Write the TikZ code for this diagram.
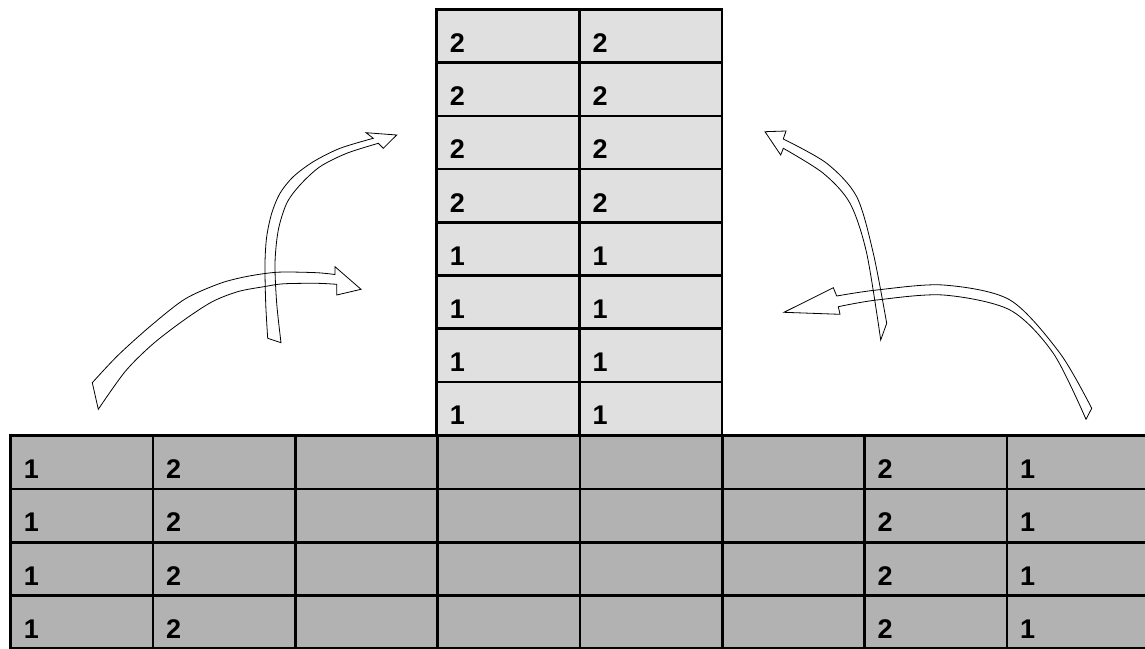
\documentclass[tikz,border=0pt]{standalone}
\usepackage{fontspec}
\setmainfont{Liberation Sans}
\usepackage{xcolor}
\usetikzlibrary{calc}

\definecolor{stackgray}{HTML}{E0E0E0}
\definecolor{basegray}{HTML}{B2B2B2}

\begin{document}
\begin{tikzpicture}[
  x=1pt, y=-1pt,
  cellbox/.style={draw=black, line width=2.6pt, anchor=north west, minimum height=53.2pt, inner sep=0pt, outer sep=0pt},
  stackcell/.style={cellbox, fill=stackgray, minimum width=142.7pt},
  basecell/.style={cellbox, fill=basegray, minimum width=142.3pt},
  digit/.style={font=\fontsize{27}{27}\selectfont\bfseries, anchor=base west, inner sep=0pt},
  flowarrow/.style={draw=black, line width=0.8pt, line join=miter}
]
  \useasboundingbox (0,0) rectangle (1145,648);
  \clip (0,0) rectangle (1145,648);
  % lower table
  \foreach \c in {0,...,7} {
    \foreach \r in {0,...,3} {\node[basecell] (base-\c-\r) at ({10.7+142.3*\c},{435.6+53.3*\r}) {};}
  }
  \foreach \c/\v in {0/1,1/2,6/2,7/1} {
    \foreach \r in {0,...,3} {\node[digit] at ($(base-\c-\r.north west)+(13,43)$) {\v};}
  }
  % stack
  \foreach \r/\v in {0/2,1/2,2/2,3/2,4/1,5/1,6/1,7/1} {
    \foreach \c in {0,1} {
      \node[stackcell] (stack-\c-\r) at ({436.7+142.7*\c},{9.5+53.2*\r}) {};
      \node[digit] at ($(stack-\c-\r.north west)+(13,43)$) {\v};
    }
  }
  % arrows on the left
  \draw[flowarrow] plot[smooth] coordinates {(92.3,382.7) (118.3,355) (151.7,325) (185,299) (218.3,284) (241.7,277.5) (265,273.5) (283.3,272) (316.7,272.7) (335,274.5)}
    -- (335,266.7) -- (361,289.3) -- (336.7,295) -- (336.7,284.3)
    -- plot[smooth] coordinates {(336.7,284.3) (316.7,283.3) (283.3,283.8) (265,286.5) (238.3,291.5) (211.7,302) (181.7,321.7) (151.7,345) (125,371.7) (98.3,409.3)} -- cycle;
  \draw[flowarrow] plot[smooth] coordinates {(267.7,338.3) (265.7,303.3) (265,263.3) (266.7,236.7) (271.7,213.3) (280,193.3) (293.3,176.7) (313.3,161.7) (340,148.3) (373.3,138.3)}
    -- (366,132.7) -- (396.7,135) -- (383.3,148.3) -- (378.3,143.3)
    -- plot[smooth] coordinates {(378.3,143.3) (346.7,153.3) (320,166.7) (300,185) (286.7,203.3) (278.3,230) (275,263.3) (276.7,303.3) (281,342.7)} -- cycle;
  % arrows on the right
  \draw[flowarrow] plot[smooth] coordinates {(783.3,139) (826.7,163.3) (856.7,196.7) (873.3,253.3) (886.7,323.3)}
    -- (880.7,340)
    -- plot[smooth] coordinates {(880.7,340) (866.7,253.3) (850,203.3) (823.3,173.3) (783.3,148.3)}
    -- (780.7,155) -- (765,131.7) -- (786,131) -- cycle;
  \draw[flowarrow] plot[smooth] coordinates {(1091.7,408.3) (1060,353.3) (1010,300) (943.3,285) (876.7,290) (836.7,296)}
    -- (833.3,287.7) -- (784,312.3) -- (840,314.3) -- (838.3,306.7)
    -- plot[smooth] coordinates {(838.3,306.7) (876.7,300) (943.3,295) (1010,310) (1053.3,353.3) (1086,419.3)} -- cycle;
\end{tikzpicture}
\end{document}
